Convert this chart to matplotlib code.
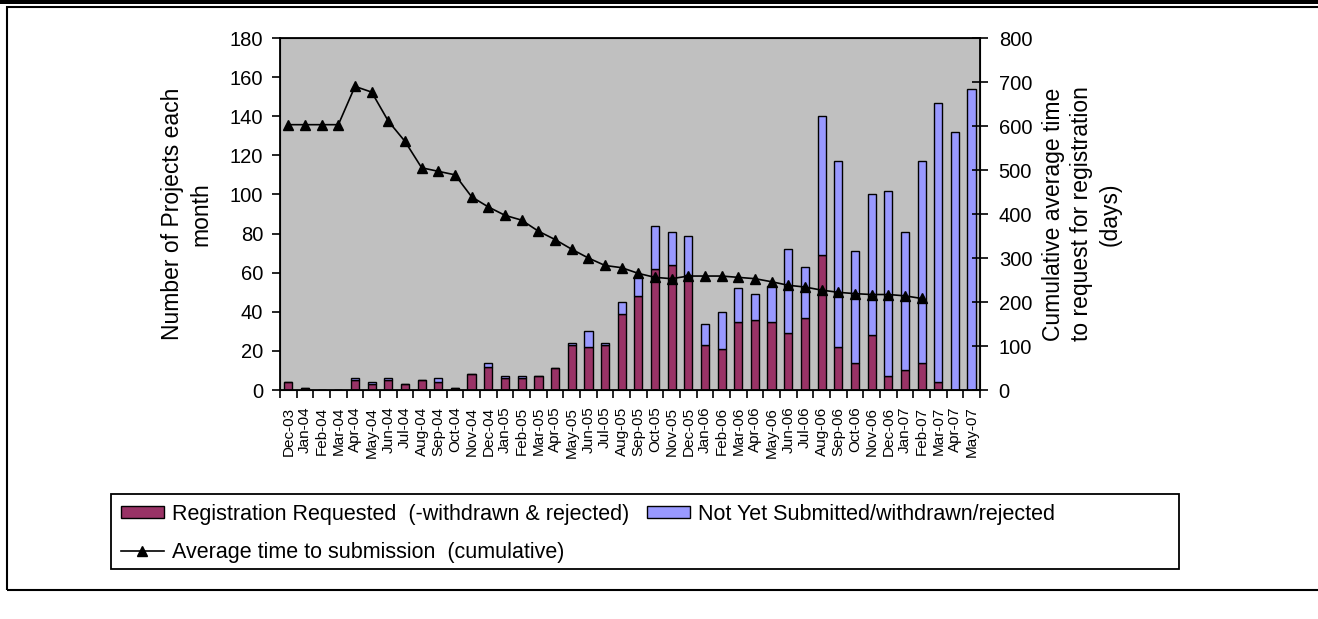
import numpy as np
import matplotlib.pyplot as plt
from matplotlib.patches import Rectangle
from matplotlib.ticker import FixedLocator, MultipleLocator

plt.rcParams['font.family'] = ['Liberation Sans', 'DejaVu Sans']

months = ['Dec-03',
          'Jan-04', 'Feb-04', 'Mar-04', 'Apr-04', 'May-04', 'Jun-04',
          'Jul-04', 'Aug-04', 'Sep-04', 'Oct-04', 'Nov-04', 'Dec-04',
          'Jan-05', 'Feb-05', 'Mar-05', 'Apr-05', 'May-05', 'Jun-05',
          'Jul-05', 'Aug-05', 'Sep-05', 'Oct-05', 'Nov-05', 'Dec-05',
          'Jan-06', 'Feb-06', 'Mar-06', 'Apr-06', 'May-06', 'Jun-06',
          'Jul-06', 'Aug-06', 'Sep-06', 'Oct-06', 'Nov-06', 'Dec-06',
          'Jan-07', 'Feb-07', 'Mar-07', 'Apr-07', 'May-07']

# registration requested (-withdrawn & rejected)
requested = [4, 1, 0, 0, 5, 3, 5, 3, 5, 4, 1, 8, 12,
             6, 6, 7, 11, 23, 22, 23, 39, 48, 62, 64, 59,
             23, 21, 35, 36, 35, 29, 37, 69, 22, 14, 28, 7,
             10, 14, 4, 0, 0]
# not yet submitted / withdrawn / rejected
not_submitted = [0, 0, 0, 0, 1, 1, 1, 0, 0, 2, 0, 0, 2,
                 1, 1, 0, 0, 1, 8, 1, 6, 10, 22, 17, 20,
                 11, 19, 17, 13, 18, 43, 26, 71, 95, 57, 72, 95,
                 71, 103, 143, 132, 154]
# average time to submission, cumulative (days), Dec-03 .. Feb-07
avg_time = [603, 603, 603, 603, 690, 677, 611, 565, 505, 497, 489, 439, 416,
            397, 386, 361, 342, 320, 300, 283, 278, 265, 256, 253, 259,
            259, 259, 256, 253, 246, 238, 234, 227, 222, 219, 217, 217,
            214, 208]

W, H = 1318, 619
fig = plt.figure(figsize=(W / 100, H / 100), dpi=100)

# page frame and top rule
fig.patches.append(Rectangle((0, 1 - 4 / H), 1, 4 / H, transform=fig.transFigure,
                             facecolor='black', edgecolor='none'))
fig.patches.append(Rectangle((7 / W, 1 - 590 / H), 1.1, (590 - 7) / H,
                             transform=fig.transFigure, fill=False,
                             edgecolor='black', linewidth=1.5))
# legend box
fig.patches.append(Rectangle((111 / W, 1 - 569 / H), (1179 - 111) / W, (569 - 494) / H,
                             transform=fig.transFigure, fill=False,
                             edgecolor='black', linewidth=1.3))

ax = fig.add_axes([280 / W, 1 - 390 / H, 700 / W, 352 / H])
ax.set_facecolor('#C0C0C0')
x = np.arange(len(months))
b1 = ax.bar(x, requested, width=0.5, color='#993366', edgecolor='black', linewidth=1)
b2 = ax.bar(x, not_submitted, width=0.5, bottom=requested, color='#9999FF',
            edgecolor='black', linewidth=1)
ax.set_xlim(-0.5, len(months) - 0.5)
ax.set_ylim(0, 180)
ax.yaxis.set_major_locator(MultipleLocator(20))
ax.set_xticks(x)
ax.set_xticklabels(months, rotation=90, fontsize=11)
ax.xaxis.set_minor_locator(FixedLocator(np.arange(len(months) + 1) - 0.5))
ax.tick_params(axis='x', which='major', length=0, pad=12)
ax.tick_params(axis='x', which='minor', length=6, width=1.2, direction='out')
ax.tick_params(axis='y', length=6, width=1.2, direction='out', labelsize=14.5, pad=6)
for s in ax.spines.values():
    s.set_linewidth(1.3)
ax.set_ylabel('Number of Projects each\nmonth', fontsize=16.5, multialignment='center',
              linespacing=1.25)
ax.yaxis.set_label_coords((212 - 280) / 700, 0.5)

ax2 = ax.twinx()
ln, = ax2.plot(x[:len(avg_time)], avg_time, color='black', linewidth=1.2,
               marker='^', markersize=7.5)
ax2.set_ylim(0, 800)
ax2.yaxis.set_major_locator(MultipleLocator(100))
ax2.tick_params(axis='y', length=11, width=1.2, direction='inout', labelsize=14.5, pad=8)
ax2.set_ylabel('Cumulative average time\nto request for registration\n(days)',
               fontsize=16.5, multialignment='center', linespacing=1.3)
ax2.yaxis.set_label_coords((1042 - 280) / 700, 0.5)

fig.legend([b1, ln, b2],
           ['Registration Requested  (-withdrawn & rejected)',
            'Average time to submission  (cumulative)',
            'Not Yet Submitted/withdrawn/rejected'],
           ncol=2, loc='upper left', bbox_to_anchor=(111 / W, 1 - 494 / H),
           frameon=False, fontsize=15.5, handlelength=2.0, handleheight=0.5,
           handletextpad=0.4, columnspacing=0.8, labelspacing=0.8,
           borderpad=0.45, borderaxespad=0)

fig.savefig('out.png', dpi=100)
